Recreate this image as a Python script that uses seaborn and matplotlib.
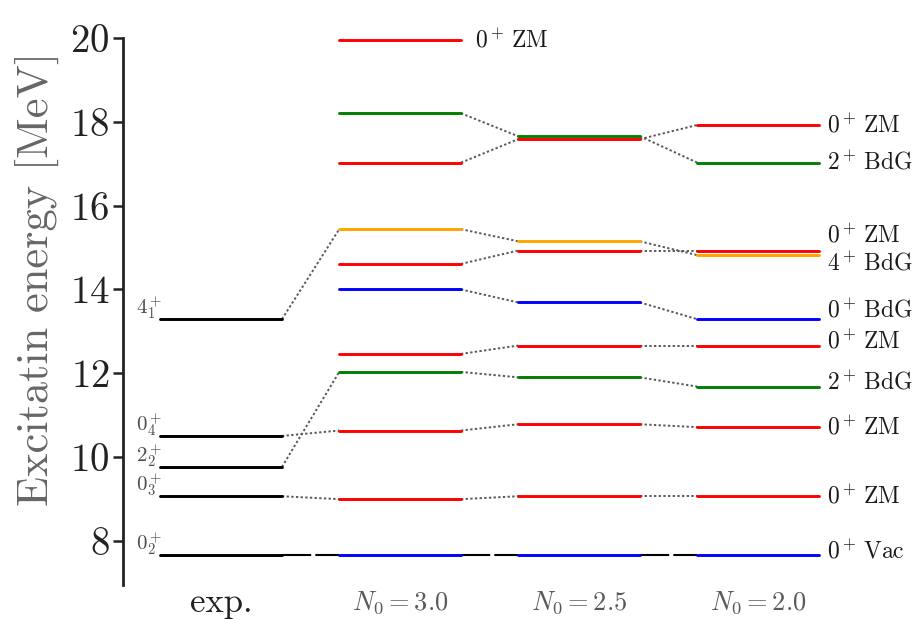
import numpy as np
import pandas as pd
import matplotlib
matplotlib.use("Agg")
import matplotlib.pyplot as plt
import seaborn as sns

# column labels of the level scheme
columns = ["exp.", r"$N_0=3.0$", r"$N_0=2.5$", r"$N_0=2.0$"]

# experimental levels [MeV]
exp_energy = [7.65, 9.06, 9.76, 10.50, 13.29]
exp_names = [r"$0_2^+$", r"$0_3^+$", r"$2_2^+$", r"$0_4^+$", r"$4_1^+$"]
exp_link = [0, 1, 3, 2, 7]  # calculated state each exp level is linked to

# calculated states (bottom to top) for each N0
state_names = [r"$0^+\,\mathrm{Vac}$", r"$0^+\,\mathrm{ZM}$", r"$0^+\,\mathrm{ZM}$",
               r"$2^+\,\mathrm{BdG}$", r"$0^+\,\mathrm{ZM}$", r"$0^+\,\mathrm{BdG}$",
               r"$0^+\,\mathrm{ZM}$", r"$4^+\,\mathrm{BdG}$", r"$0^+\,\mathrm{ZM}$",
               r"$2^+\,\mathrm{BdG}$", r"$0^+\,\mathrm{ZM}$"]
state_kind = ["vac", "zm", "zm", "bdg2", "zm", "bdg0", "zm", "bdg4", "zm", "bdg2", "zm"]
n0_30 = [7.65, 8.99, 10.63, 12.03, 12.46, 14.00, 14.61, 15.44, 17.03, 18.21, 19.96]
n0_25 = [7.65, 9.06, 10.78, 11.90, 12.66, 13.69, 14.93, 15.15, 17.59, 17.66, np.nan]
n0_20 = [7.65, 9.06, 10.71, 11.68, 12.66, 13.29, 14.93, 14.82, 17.93, 17.03, np.nan]

kind_color = {"exp": "black", "vac": "blue", "zm": "red", "bdg2": "green",
              "bdg0": "blue", "bdg4": "orange"}

# nudges so the right-hand labels do not overlap
label_shift = [0.1, 0.0, 0.0, 0.1, 0.1, 0.2, 0.36, -0.2, 0.0, 0.0, 0.0]

sns.set_theme(style="ticks")
plt.rcParams["font.family"] = ["cmr10", "DejaVu Serif"]
plt.rcParams["mathtext.fontset"] = "cm"
plt.rcParams["axes.formatter.use_mathtext"] = True
plt.rcParams["axes.unicode_minus"] = False

calc = [n0_30, n0_25, n0_20]
hw = 0.34

# build long table of level segments
rows = []
for k, e in enumerate(exp_energy):
    rows.append({"seg": f"e{k}", "x": -hw, "E": e, "kind": "exp"})
    rows.append({"seg": f"e{k}", "x": hw, "E": e, "kind": "exp"})
for c, vals in enumerate(calc):
    for j, e in enumerate(vals):
        if np.isnan(e):
            continue
        rows.append({"seg": f"c{c}_{j}", "x": c + 1 - hw, "E": e, "kind": state_kind[j]})
        rows.append({"seg": f"c{c}_{j}", "x": c + 1 + hw, "E": e, "kind": state_kind[j]})
levels = pd.DataFrame(rows)

fig = plt.figure(figsize=(9.15, 6.2), dpi=100)
ax = fig.add_axes([0.1348, 0.0565, 0.7614, 0.8817])

dot = dict(color="0.35", ls=(0, (1.2, 1.2)), lw=1.4, zorder=1)
dash = dict(color="black", ls=(0, (14, 2)), lw=1.5, zorder=1)

# connectors exp -> N0=3.0
for k, e in enumerate(exp_energy):
    j = exp_link[k]
    st = dash if state_kind[j] == "vac" else dot
    ax.plot([hw, 1 - hw], [e, calc[0][j]], **st)
# connectors between calculations
for c in range(2):
    for j in range(len(state_kind)):
        a, b = calc[c][j], calc[c + 1][j]
        if np.isnan(a) or np.isnan(b):
            continue
        st = dash if state_kind[j] == "vac" else dot
        ax.plot([c + 1 + hw, c + 2 - hw], [a, b], **st)

sns.lineplot(data=levels, x="x", y="E", hue="kind", units="seg", estimator=None,
             palette=kind_color, linewidth=2.1, legend=False, sort=False, ax=ax)
for ln in ax.lines:
    ln.set_clip_on(False)
    if ln.get_zorder() != 1:
        ln.set_zorder(2)

# exp level labels
for e, name in zip(exp_energy, exp_names):
    ax.text(-hw + 0.01, e + 0.27, name, ha="right", va="center",
            fontsize=15, color="0.3")

# right-hand labels for N0=2.0
for j, e in enumerate(n0_20):
    if np.isnan(e):
        continue
    ax.text(3.385, e + label_shift[j], state_names[j], ha="left", va="center",
            fontsize=17, color="0.1", clip_on=False)
ax.text(1.42, n0_30[-1], state_names[-1], ha="left", va="center",
        fontsize=17, color="0.1")

ax.set_xlim(-0.546, 3.346)
ax.set_ylim(6.94, 20)
ax.set_yticks([8, 10, 12, 14, 16, 18, 20])
ax.set_xticks(range(len(columns)), columns)
ax.set_xlabel("")
ax.set_ylabel("Excitatin energy [MeV]", fontsize=32, color="0.4", va="center")
ax.yaxis.set_label_coords(-0.124, 0.56)

ax.tick_params(axis="y", labelsize=28, length=7, width=1.8, pad=3, color="#222",
               labelcolor="#222")
ax.tick_params(axis="x", length=0, pad=13)
xl = ax.get_xticklabels()
for i, t in enumerate(xl):
    t.set_va("center")
    if i == 0:
        t.set_fontsize(25)
        t.set_color("#222")
    else:
        t.set_fontsize(19)
        t.set_color("0.35")

sns.despine(ax=ax, bottom=True)
ax.spines["left"].set_linewidth(2)
ax.spines["left"].set_color("#222")

fig.savefig("out.png", dpi=100)
